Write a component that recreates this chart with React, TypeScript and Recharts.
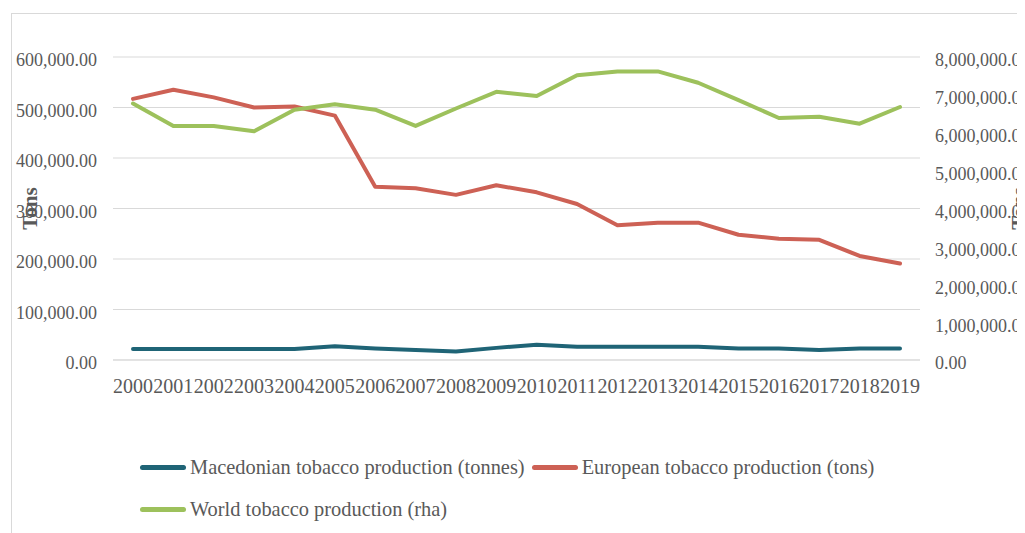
import React from 'react';
import { LineChart, Line, XAxis, YAxis, CartesianGrid, Legend } from 'recharts';

const years = ['2000', '2001', '2002', '2003', '2004', '2005', '2006', '2007', '2008', '2009', '2010', '2011', '2012', '2013', '2014', '2015', '2016', '2017', '2018', '2019'];
const macedonian = [22000, 22000, 22000, 22000, 22000, 27000, 23000, 20000, 17000, 24000, 30000, 26000, 26000, 26000, 26000, 23000, 23000, 20000, 23000, 23000];
const european = [517000, 535000, 520000, 500000, 502000, 484000, 343000, 340000, 327000, 346000, 332000, 309000, 267000, 272000, 272000, 248000, 240000, 238000, 206000, 191000];
const world = [6770000, 6180000, 6180000, 6040000, 6610000, 6750000, 6610000, 6180000, 6640000, 7080000, 6970000, 7520000, 7620000, 7620000, 7320000, 6860000, 6390000, 6420000, 6240000, 6680000];
const leftTicks = [0, 100000, 200000, 300000, 400000, 500000, 600000];
const rightTicks = [0, 1000000, 2000000, 3000000, 4000000, 5000000, 6000000, 7000000, 8000000];

const seriesKeys = ['mk', 'eu', 'world'];
const seriesNames: Record<string, string> = {
  mk: 'Macedonian tobacco production (tonnes)',
  eu: 'European tobacco production (tons)',
  world: 'World tobacco production (rha)',
};
const colors: Record<string, string> = { mk: '#1F6476', eu: '#CD6155', world: '#9DC15C' };

const data = years.map((y, i) => ({ year: y, mk: macedonian[i], eu: european[i], world: world[i] }));

const FONT = '"Liberation Serif", "Times New Roman", serif';
const fmt = (v: number) => v.toLocaleString('en-US', { minimumFractionDigits: 2, maximumFractionDigits: 2 });

const LegendContent = () => (
  <div style={{ display: 'flex', flexWrap: 'wrap', columnGap: 7, rowGap: 18, fontFamily: FONT, fontSize: 20.4, color: '#595959' }}>
    {seriesKeys.map((k) => (
      <div key={k} style={{ display: 'flex', alignItems: 'center', height: 24 }}>
        <span style={{ display: 'inline-block', width: 46, height: 5, borderRadius: 3, background: colors[k], marginRight: 4 }} />
        <span style={{ whiteSpace: 'nowrap' }}>{seriesNames[k]}</span>
      </div>
    ))}
  </div>
);

export default function App() {
  return (
    <div style={{ position: 'relative', width: 1017, height: 525, overflow: 'hidden', background: '#fff' }}>
      <style>{`html,body{overflow:hidden;}`}</style>
      <div style={{ position: 'absolute', left: 3, top: 5, width: 1200, height: 700, border: '1px solid #d9d9d9', boxSizing: 'border-box' }} />
      <LineChart width={1017} height={525} data={data} margin={{ top: 49, right: 0, bottom: 133, left: 0 }} style={{ fontFamily: FONT }}>
        <CartesianGrid yAxisId="left" vertical={false} stroke="#d9d9d9" strokeWidth={1} />
        <XAxis
          dataKey="year"
          interval={0}
          padding={{ left: 20, right: 20 }}
          tickLine={false}
          tickSize={0}
          tickMargin={19}
          height={40}
          axisLine={{ stroke: '#d9d9d9' }}
          tick={{ fill: '#595959', fontSize: 20, fontFamily: FONT }}
        />
        <YAxis
          yAxisId="left"
          orientation="left"
          width={105}
          domain={[0, 600000]}
          ticks={leftTicks}
          tickFormatter={fmt}
          axisLine={false}
          tickLine={false}
          tickSize={0}
          tickMargin={16}
          tick={{ fill: '#595959', fontSize: 18, fontFamily: FONT, dy: 3 }}
          label={{ value: 'Tons', angle: -90, position: 'insideLeft', offset: 22, fill: '#595959', fontSize: 21, fontWeight: 'bold', fontFamily: FONT, style: { textAnchor: 'middle' } }}
        />
        <YAxis
          yAxisId="right"
          orientation="right"
          width={105}
          domain={[0, 8000000]}
          ticks={rightTicks}
          tickFormatter={fmt}
          axisLine={false}
          tickLine={false}
          tickSize={0}
          tickMargin={15}
          tick={{ fill: '#595959', fontSize: 18, fontFamily: FONT, dy: 3 }}
          label={{ value: 'Tons', angle: -90, position: 'insideRight', offset: 6, fill: '#595959', fontSize: 21, fontWeight: 'bold', fontFamily: FONT, style: { textAnchor: 'middle' } }}
        />
        <Legend
          layout="horizontal"
          verticalAlign="middle"
          align="center"
          content={<LegendContent />}
          wrapperStyle={{ top: 447, left: 132, width: 800, bottom: 'auto' }}
        />
        <Line yAxisId="left" type="linear" dataKey="mk" name={seriesNames.mk} stroke={colors.mk} strokeWidth={4} strokeLinecap="round" strokeLinejoin="round" dot={false} isAnimationActive={false} />
        <Line yAxisId="left" type="linear" dataKey="eu" name={seriesNames.eu} stroke={colors.eu} strokeWidth={4} strokeLinecap="round" strokeLinejoin="round" dot={false} isAnimationActive={false} />
        <Line yAxisId="right" type="linear" dataKey="world" name={seriesNames.world} stroke={colors.world} strokeWidth={4} strokeLinecap="round" strokeLinejoin="round" dot={false} isAnimationActive={false} />
      </LineChart>
    </div>
  );
}
